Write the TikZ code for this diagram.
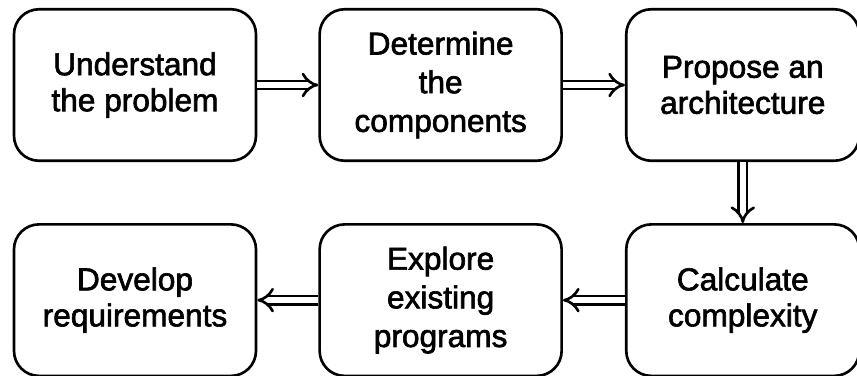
\documentclass[tikz,border=0pt]{standalone}
\usepackage{fontspec}
\setmainfont{Liberation Sans}
\newfontfamily\boxfont[FakeBold=2]{Liberation Sans}
\usepackage{tikz}
\usetikzlibrary{arrows.meta,positioning}

\begin{document}
\begin{tikzpicture}[
    node distance=1.22cm,
    block/.style={rectangle, draw, line width=1.5pt, align=center, rounded corners=0.5cm,
        minimum width=4.84cm, minimum height=3.03cm, font=\boxfont\fontsize{18}{20.5}\selectfont},
    tall/.style={font=\boxfont\fontsize{18}{22}\selectfont},
    line/.style={draw, double, double distance=3.2pt, line width=1.5pt, -{Implies}}
]
\useasboundingbox (0,0) rectangle (17.14,-7.5);
% Top row
\node [block] (understand) at (2.7,-1.70) {Understand\\the problem};
\node [block, tall, right=1.22cm of understand] (determine) {Determine\\the\\components};
\node [block, right=1.24cm of determine, minimum width=4.66cm] (propose) {Propose an\\architecture};

% Bottom row
\node [block, below=of propose, minimum width=4.66cm] (calculate) {Calculate\\complexity};
\node [block, tall, below=of determine] (explore) {Explore\\existing\\programs};
\node [block, below=of understand] (develop) {Develop\\requirements};

% Connections
\path [line] (understand) -- (determine);
\path [line] (determine) -- (propose);
\path [line] (propose) -- (calculate);
\path [line] (calculate) -- (explore);
\path [line] (explore) -- (develop);
\end{tikzpicture}
\end{document}
